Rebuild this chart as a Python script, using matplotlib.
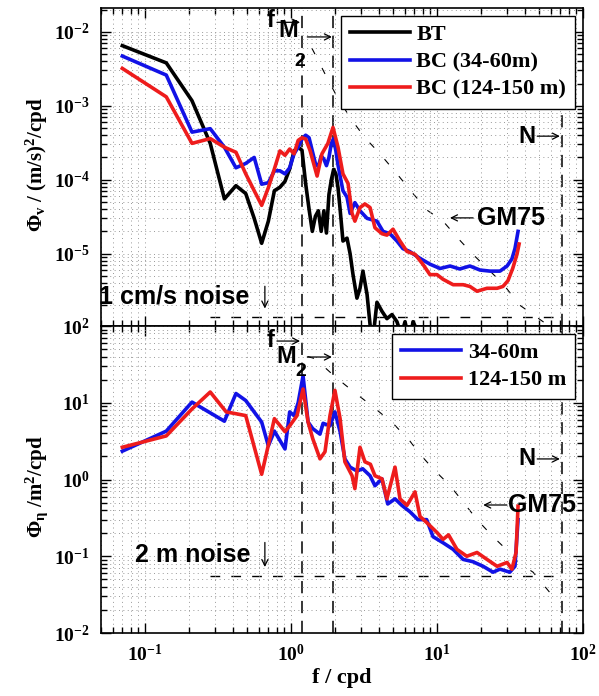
import matplotlib
matplotlib.use('Agg')
import matplotlib.pyplot as plt
import numpy as np
from matplotlib.ticker import LogLocator, FuncFormatter, NullFormatter

# ---- top panel: velocity spectra, (m/s)^2/cpd vs cpd
bt_f = [0.07, 0.14, 0.21, 0.28, 0.35, 0.42, 0.49, 0.56, 0.63, 0.70, 0.77, 0.84, 0.91, 0.98,
        1.05, 1.12, 1.19, 1.26, 1.33, 1.40, 1.47, 1.54, 1.61, 1.68, 1.75, 1.82, 1.89, 1.96,
        2.03, 2.10, 2.17, 2.27, 2.42, 2.54, 2.66, 2.83, 2.97, 3.11, 3.32, 3.48, 3.62, 3.88,
        4.2, 4.54, 4.92, 5.32, 5.7, 6.04, 6.5, 6.85, 7.6, 8.5, 12, 20, 36]
bt_v = [6.5e-3, 3.8e-3, 1.17e-3, 3.1e-4, 5.5e-5, 8.3e-5, 6.5e-5, 3.0e-5, 1.38e-5, 2.75e-5,
        7.1e-5, 7.9e-5, 9.5e-5, 1.4e-4, 2.45e-4, 2.75e-4, 2.5e-4, 8.9e-5, 4.0e-5, 2.0e-5,
        3.2e-5, 3.8e-5, 2.0e-5, 3.8e-5, 1.9e-5, 6.3e-5, 1.0e-4, 1.38e-4, 1.2e-4, 7.8e-5,
        4.0e-5, 1.48e-5, 1.62e-5, 1.0e-5, 5.2e-6, 2.5e-6, 3.4e-6, 5.8e-6, 2.8e-6, 1.1e-6,
        6.3e-7, 2.2e-6, 1.66e-6, 1.32e-6, 1.5e-6, 1.2e-6, 7.9e-7, 1.2e-6, 6.3e-7, 1.2e-6,
        7.9e-7, 4e-7, 2.5e-7, 2e-7, 2e-7]

bc1_f = [0.07, 0.14, 0.21, 0.28, 0.35, 0.42, 0.49, 0.56, 0.63, 0.70, 0.77, 0.84, 0.91, 0.98,
         1.05, 1.12, 1.19, 1.26, 1.33, 1.40, 1.47, 1.54, 1.61, 1.68, 1.75, 1.82, 1.89, 1.96,
         2.03, 2.10, 2.17, 2.27, 2.42, 2.54, 2.74, 2.97, 3.32, 3.88, 4.27, 4.76, 5.32, 5.84,
         6.5, 7.6, 8.95, 10.5, 12.3, 14.3, 16.8, 19.7, 23.1, 27.0, 30.2, 32.6, 34.2, 35.9]
bc1_v = [4.7e-3, 2.6e-3, 4.4e-4, 4.9e-4, 2.75e-4, 1.45e-4, 1.66e-4, 2.0e-4, 8.7e-5, 9.1e-5,
         1.32e-4, 1.32e-4, 1.2e-4, 1.45e-4, 2.24e-4, 2.75e-4, 3.55e-4, 4.0e-4, 3.7e-4, 2.45e-4,
         1.66e-4, 1.5e-4, 2.1e-4, 1.9e-4, 1.55e-4, 2.0e-4, 3.1e-4, 3.6e-4, 2.45e-4, 1.58e-4,
         1.12e-4, 7.1e-5, 5.8e-5, 3.5e-5, 4.9e-5, 3.8e-5, 3.0e-5, 2.75e-5, 2.0e-5, 1.86e-5,
         1.48e-5, 1.17e-5, 1.07e-5, 8.7e-6, 7.2e-6, 6.3e-6, 6.8e-6, 6.2e-6, 6.8e-6, 6.0e-6,
         5.8e-6, 5.8e-6, 6.8e-6, 8.5e-6, 1.17e-5, 2.0e-5]

bc2_f = [0.07, 0.14, 0.21, 0.28, 0.35, 0.42, 0.49, 0.56, 0.63, 0.70, 0.77, 0.84, 0.91, 0.98,
         1.05, 1.12, 1.19, 1.26, 1.35, 1.51, 1.63, 1.79, 1.94, 2.10, 2.27, 2.46, 2.62, 2.74,
         2.97, 3.21, 3.48, 3.76, 4.2, 4.54, 5.0, 5.58, 6.23, 7.07, 8.0, 8.95, 10, 11, 12.9,
         15.1, 16.8, 18.8, 22, 25.8, 28.3, 30.6, 33, 35.3, 36.5]
bc2_v = [3.2e-3, 1.32e-3, 3.1e-4, 3.6e-4, 2.75e-4, 2.35e-4, 1.2e-4, 7.1e-5, 4.5e-5, 7.8e-5,
         1.4e-4, 2.45e-4, 2.14e-4, 2.6e-4, 2.24e-4, 3.4e-4, 3.7e-4, 3.55e-4, 2.5e-4, 1.12e-4,
         2.24e-4, 3.1e-4, 5.1e-4, 2.75e-4, 1.2e-4, 8.9e-5, 3.5e-5, 2.75e-5, 4.2e-5, 4.7e-5,
         4.2e-5, 2.24e-5, 1.86e-5, 1.78e-5, 2.14e-5, 1.48e-5, 1.07e-5, 9.8e-6, 7.2e-6, 5.2e-6,
         5.2e-6, 4.5e-6, 3.8e-6, 3.8e-6, 3.6e-6, 3.1e-6, 3.4e-6, 3.4e-6, 3.6e-6, 4.3e-6,
         6.3e-6, 9.8e-6, 1.35e-5]

gm_v_f = [1.39, 1.43, 1.71, 2.0, 2.54, 3.21, 4.07, 5.32, 6.85, 8.67, 11.0, 13.9, 17.6, 23.1,
          28.3, 37.0, 45.5, 56.7, 70]
gm_v = [6.0e-3, 5.4e-3, 2.7e-3, 1.5e-3, 6.9e-4, 3.7e-4, 2.24e-4, 1.2e-4, 6.5e-5, 3.8e-5,
        2.75e-5, 1.62e-5, 9.8e-6, 5.8e-6, 3.9e-6, 2.0e-6, 1.5e-6, 1.1e-6, 6.3e-7]

# ---- bottom panel: displacement spectra, m^2/cpd vs cpd
eta1_f = [0.07, 0.14, 0.21, 0.35, 0.42, 0.49, 0.63, 0.70, 0.77, 0.91, 0.98, 1.05, 1.12, 1.21,
          1.31, 1.41, 1.58, 1.66, 1.85, 2.0, 2.17, 2.34, 2.54, 2.83, 3.1, 3.48, 3.76, 4.2, 4.6,
          5.16, 5.75, 6.53, 7.4, 8.5, 9.39, 11, 12.9, 15.1, 17.6, 20.7, 24.2, 27, 31.5, 34.2, 35.9]
eta1_v = [2.34, 4.27, 10.2, 5.75, 13.2, 10.7, 5.6, 2.75, 4.27, 2.5, 7.6, 6.8, 10, 22.4, 5.6,
          4.6, 3.9, 5.4, 5.0, 7.6, 4.2, 1.86, 1.45, 1.29, 1.38, 1.12, 0.83, 1.02, 0.48, 0.56,
          0.46, 0.38, 0.30, 0.30, 0.18, 0.15, 0.123, 0.091, 0.085, 0.074, 0.062, 0.068, 0.062,
          0.074, 0.30]

eta2_f = [0.07, 0.14, 0.21, 0.28, 0.36, 0.42, 0.49, 0.63, 0.77, 0.91, 0.98, 1.1, 1.21, 1.31,
          1.41, 1.58, 1.71, 1.85, 2.0, 2.17, 2.34, 2.62, 2.74, 2.97, 3.21, 3.5, 3.76, 4.2, 4.54,
          5.16, 5.58, 6.23, 7.07, 7.65, 8.5, 10, 11, 12, 13.7, 16, 18.8, 22, 25.8, 30.2, 32.6,
          34.8, 35.9]
eta2_v = [2.63, 3.7, 8.3, 13.8, 7.6, 7.2, 6.8, 1.17, 6.2, 4.2, 5.0, 6.8, 15.1, 5.6, 3.4, 1.86,
          2.3, 6.8, 14.5, 6.2, 1.7, 1.12, 0.76, 2.63, 1.7, 1.58, 1.12, 1.02, 0.56, 1.45, 0.56,
          0.46, 0.69, 0.33, 0.275, 0.204, 0.166, 0.19, 0.123, 0.10, 0.112, 0.091, 0.074, 0.083,
          0.068, 0.112, 0.45]

gm_eta_f = [1.3, 1.46, 2.03, 2.70, 3.64, 5.0, 6.53, 7.65, 9.39, 12.3, 15.1, 18.8, 24.2, 28.3,
            35.3, 45.5, 62.3]
gm_eta = [40, 37.6, 21.4, 13.8, 8.9, 5.4, 3.16, 2.14, 1.38, 0.83, 0.51, 0.30, 0.18, 0.135,
          0.085, 0.062, 0.030]

f_inertial = 1.19
f_m2 = 1.93
f_n = 72
noise_f = [0.28, 72]
noise_v = [1.4e-6, 1.4e-6]
noise_eta = [0.055, 0.055]

BLUE = '#1212e6'
RED = '#ee1c1c'


def dec_fmt(v, pos):
    return r'$10^{%d}$' % int(round(np.log10(v)))


def style_axis(ax):
    ax.set_xscale('log')
    ax.set_yscale('log')
    ax.set_xlim(0.05, 100)
    ax.xaxis.set_major_locator(LogLocator(base=10, numticks=20))
    ax.yaxis.set_major_locator(LogLocator(base=10, numticks=20))
    ax.xaxis.set_minor_locator(LogLocator(base=10, subs=np.arange(2, 10), numticks=20))
    ax.yaxis.set_minor_locator(LogLocator(base=10, subs=np.arange(2, 10), numticks=20))
    ax.xaxis.set_minor_formatter(NullFormatter())
    ax.yaxis.set_minor_formatter(NullFormatter())
    ax.yaxis.set_major_formatter(FuncFormatter(dec_fmt))
    ax.xaxis.set_major_formatter(FuncFormatter(dec_fmt))
    ax.tick_params(which='both', direction='in', top=True, right=True, width=1,
                   labelsize=14)
    ax.tick_params(which='major', length=7, pad=8)
    ax.tick_params(which='minor', length=4)
    ax.grid(True, which='both', color='0.6', linestyle=(0, (1, 3.5)), linewidth=0.7)
    for s in ax.spines.values():
        s.set_linewidth(1.2)
    for fv in (f_inertial, f_m2, f_n):
        ax.axvline(fv, color='k', lw=1.1, dashes=(8, 5), zorder=1)


def arrow(ax, x0, y0, x1, y1):
    ax.annotate('', xy=(x1, y1), xytext=(x0, y0), xycoords='axes fraction',
                arrowprops=dict(arrowstyle='->', lw=0.9, color='k', shrinkA=0, shrinkB=0,
                                mutation_scale=11))


def labels(ax, ys):
    sans = dict(family='Liberation Sans', weight='bold', transform=ax.transAxes,
                ha='center', va='center')
    ax.text(0.351, ys['f'], 'f', fontsize=17, **sans)
    arrow(ax, 0.365, ys['fa'], 0.413, ys['fa'])
    ax.text(ys['mx'], ys['m'], 'M', fontsize=17, **sans)
    ax.text(ys['m2x'], ys['m2'], '2', fontsize=14, **sans)
    arrow(ax, 0.428, ys['ma'], 0.479, ys['ma'])
    ax.text(0.884, ys['n'], 'N', fontsize=17, **sans)
    arrow(ax, 0.905, ys['n'], 0.952, ys['n'])
    ax.text(ys['gmx'], ys['gm'], 'GM75', fontsize=18, **sans)
    arrow(ax, ys['gma1'], ys['gm'], ys['gma0'], ys['gm'])


plt.rcParams['font.family'] = ['Liberation Serif', 'DejaVu Serif']
plt.rcParams['font.weight'] = 'bold'
plt.rcParams['axes.labelweight'] = 'bold'
plt.rcParams['mathtext.fontset'] = 'custom'
plt.rcParams['mathtext.rm'] = 'Liberation Serif:bold'
plt.rcParams['mathtext.bf'] = 'Liberation Serif:bold'
plt.rcParams['mathtext.it'] = 'Liberation Serif:italic:bold'
plt.rcParams['mathtext.default'] = 'rm'

fig = plt.figure(figsize=(5.99, 6.96), dpi=100)
ax1 = fig.add_axes([0.1686, 0.5316, 0.8047, 0.4569])
ax2 = fig.add_axes([0.1686, 0.0905, 0.8047, 0.4411])

leg_kw = dict(loc='upper right', prop=dict(family='Liberation Serif', weight='bold', size=16),
              fancybox=False, framealpha=1, edgecolor='k', borderaxespad=0.35,
              borderpad=0.4, handlelength=2.7, handletextpad=0.3, labelspacing=0.3)

# top panel
style_axis(ax1)
ax1.set_ylim(1.05e-6, 2.1e-2)
ax1.plot(noise_f, noise_v, color='k', lw=1.0, dashes=(7, 8), zorder=1)
ax1.plot(gm_v_f, gm_v, color='k', lw=0.8, dashes=(6, 14), zorder=1)
ax1.plot(bt_f, bt_v, color='k', lw=2.6, label='BT', zorder=3)
ax1.plot(bc1_f, bc1_v, color=BLUE, lw=2.6, label='BC (34-60m)', zorder=3)
ax1.plot(bc2_f, bc2_v, color=RED, lw=2.6, label='BC (124-150 m)', zorder=3)
ax1.tick_params(labelbottom=False)
ax1.set_ylabel(r'$\Phi_{\rm v}$ / (m/s)$^{2}$/cpd', fontsize=15)
ax1.yaxis.set_label_coords(-0.105, 0.509)
leg = ax1.legend(**leg_kw)
leg.get_frame().set_linewidth(1.0)
labels(ax1, dict(f=0.962, fa=0.955, m=0.928, mx=0.389, m2=0.833, m2x=0.413, ma=0.909,
                 n=0.597, gm=0.340, gmx=0.851, gma0=0.724, gma1=0.772))
ax1.text(-0.004, 0.092, '1 cm/s noise', fontsize=18, family='Liberation Sans', weight='bold',
         transform=ax1.transAxes, ha='left', va='center')
arrow(ax1, 0.340, 0.125, 0.340, 0.055)

# bottom panel
style_axis(ax2)
ax2.set_ylim(1e-2, 1e2)
ax2.plot(noise_f, noise_eta, color='k', lw=1.0, dashes=(7, 8), zorder=1)
ax2.plot(gm_eta_f, gm_eta, color='k', lw=0.8, dashes=(6, 14), zorder=1)
ax2.plot(eta1_f, eta1_v, color=BLUE, lw=2.6, label='34-60m', zorder=3)
ax2.plot(eta2_f, eta2_v, color=RED, lw=2.6, label='124-150 m', zorder=3)
ax2.set_ylabel(r'$\Phi_{\eta}$ /m$^{2}$/cpd', fontsize=15)
ax2.yaxis.set_label_coords(-0.105, 0.476)
ax2.set_xlabel('f / cpd', fontsize=16, labelpad=2)
leg2 = ax2.legend(**leg_kw)
leg2.get_frame().set_linewidth(1.0)
labels(ax2, dict(f=0.954, fa=0.951, m=0.902, mx=0.384, m2=0.853, m2x=0.415, ma=0.899,
                 n=0.567, gm=0.417, gmx=0.915, gma0=0.793, gma1=0.842))
ax2.text(0.071, 0.254, '2 m noise', fontsize=18, family='Liberation Sans', weight='bold',
         transform=ax2.transAxes, ha='left', va='center')
arrow(ax2, 0.340, 0.295, 0.340, 0.215)

fig.savefig('out.png', dpi=100)
